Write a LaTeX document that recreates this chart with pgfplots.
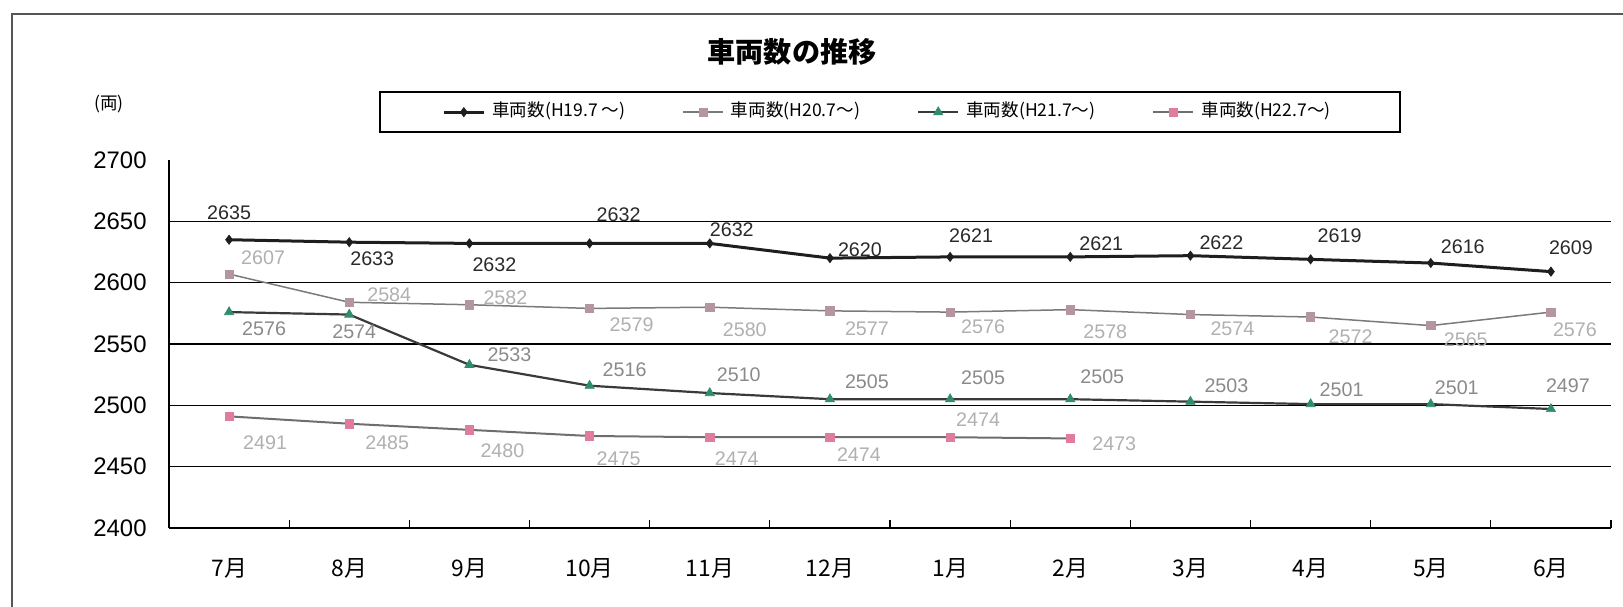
\documentclass[border=0pt]{standalone}
\usepackage{fontspec}
\setmainfont{Liberation Sans}
\newfontfamily\jp{Noto Sans CJK JP}
\usepackage{pgfplots}
\pgfplotsset{compat=1.18}
\usepackage{pgfplotstable}

\definecolor{sAline}{HTML}{1E1E1E}
\definecolor{sBline}{HTML}{7A7A7A}
\definecolor{sCline}{HTML}{3A3A3A}
\definecolor{sDline}{HTML}{6E6E6E}
\definecolor{mgray}{HTML}{B3969F}
\definecolor{mpink}{HTML}{E27C9C}
\definecolor{mteal}{HTML}{2F8C6C}
\definecolor{labdark}{HTML}{2A2A2A}
\definecolor{labmid}{HTML}{8A8A8A}
\definecolor{lablight}{HTML}{B0B0B0}
\definecolor{frame}{HTML}{555555}

% x = month index (0 = 7月), dx/dy = label offset in 0.1 mm
\pgfplotstableread{
x y dx dy
0 2635 0 27
1 2633 23 -17
2 2632 25 -21
3 2632 29 29
4 2632 22 14
5 2620 30 8
6 2621 21 21
7 2621 31 13
8 2622 31 13
9 2619 29 24
10 2616 32 16
11 2609 20 24
}\sA
\pgfplotstableread{
x y dx dy
0 2607 34 16
1 2584 40 8
2 2582 36 7
3 2579 42 -16
4 2580 35 -23
5 2577 37 -18
6 2576 33 -15
7 2578 35 -22
8 2574 42 -14
9 2572 40 -20
10 2565 35 -14
11 2576 24 -18
}\sB
\pgfplotstableread{
x y dx dy
0 2576 35 -17
1 2574 5 -17
2 2533 40 10
3 2516 35 16
4 2510 29 18
5 2505 37 17
6 2505 33 21
7 2505 32 22
8 2503 36 16
9 2501 31 14
10 2501 26 16
11 2497 17 23
}\sC
\pgfplotstableread{
x y dx dy
0 2491 36 -26
1 2485 38 -19
2 2480 33 -21
3 2475 29 -23
4 2474 27 -21
5 2474 29 -17
6 2474 28 18
7 2473 44 -5
}\sD

% value labels, drawn as a separate unlisted plot
\pgfplotsset{
  lbl/.style={
    forget plot, draw=none, mark=none,
    nodes near coords,
    visualization depends on={\thisrow{dx} \as \dx},
    visualization depends on={\thisrow{dy} \as \dy},
    every node near coord/.append style={anchor=center, inner sep=0pt,
      xshift=\dx*0.1mm, yshift=\dy*0.1mm,
      font=\fontsize{5.6}{6}\selectfont, text=#1},
  },
}

\begin{document}
\begin{tikzpicture}
\useasboundingbox (-16.9mm,-7.9mm) rectangle (145.4mm,52.8mm);
\begin{axis}[
  at={(0,0)}, anchor=south west,
  scale only axis,
  width=144.2mm, height=36.8mm,
  xmin=-0.5, xmax=11.5,
  ymin=2400, ymax=2700,
  axis x line*=bottom, axis y line*=left,
  axis line style={-, black},
  x axis line style={line width=0.25mm},
  y axis line style={line width=0.15mm},
  tick align=inside,
  xtick={0,...,11},
  xticklabels={7月,8月,9月,10月,11月,12月,1月,2月,3月,4月,5月,6月},
  xticklabel style={font=\jp\fontsize{6.5}{7}\selectfont, yshift=-1.8mm},
  major x tick style={draw=none},
  minor xtick={-0.5,0.5,...,11.5},
  minor x tick style={black, line width=0.12mm},
  minor tick length=0.8mm,
  ytick={2400,2450,...,2700},
  major y tick style={draw=none},
  yticklabel style={font=\fontsize{6.8}{7}\selectfont, xshift=-1.0mm},
  extra y ticks={2450,2500,2550,2600,2650},
  extra y tick labels={},
  extra y tick style={grid=major},
  major grid style={black, line width=0.15mm},
  /pgf/number format/assume math mode=true,
  /pgf/number format/1000 sep={},
  clip=false,
  legend columns=4,
  legend cell align=left,
  legend image code/.code={\draw[mark repeat=2,mark phase=2,#1]
    plot coordinates {(0mm,0mm) (2mm,0mm) (4mm,0mm)};},
  legend style={at={(0.5,1.13)}, anchor=center,
    draw=black, line width=0.2mm, fill=white,
    inner xsep=6.2mm, inner ysep=0.3mm,
    font=\jp\fontsize{5}{5.5}\selectfont,
    /tikz/every even column/.append style={column sep=5mm}},
]
\addplot[sAline, line width=0.3mm, mark=diamond*, mark size=1.3pt,
  mark options={solid, line width=0.2pt, fill=sAline}]
  table[x=x, y=y] {\sA};
\addlegendentry{車両数(H19.7 ～)}
\addplot[sBline, line width=0.15mm, mark=square*, mark size=1.2pt,
  mark options={solid, line width=0.2pt, draw=mgray, fill=mgray}]
  table[x=x, y=y] {\sB};
\addlegendentry{車両数(H20.7～)}
\addplot[sCline, line width=0.22mm, mark=triangle*, mark size=1.5pt,
  mark options={solid, line width=0.2pt, draw=mteal, fill=mteal}]
  table[x=x, y=y] {\sC};
\addlegendentry{車両数(H21.7～)}
\addplot[sDline, line width=0.2mm, mark=square*, mark size=1.2pt,
  mark options={solid, line width=0.2pt, draw=mpink, fill=mpink}]
  table[x=x, y=y] {\sD};
\addlegendentry{車両数(H22.7～)}

\addplot[lbl=labdark] table[x=x, y=y] {\sA};
\addplot[lbl=lablight] table[x=x, y=y] {\sB};
\addplot[lbl=labmid] table[x=x, y=y] {\sC};
\addplot[lbl=lablight] table[x=x, y=y] {\sD};
\end{axis}
\node[font=\jp\bfseries\fontsize{8}{9}\selectfont] at (62.3mm,47.6mm) {車両数の推移};
\node[font=\jp\fontsize{5}{6}\selectfont] at (-6mm,42.4mm) {(両)};
\draw[frame, line width=0.15mm] (-15.7mm,-8mm) -- (-15.7mm,51.4mm) -- (146mm,51.4mm);
\end{tikzpicture}
\end{document}
